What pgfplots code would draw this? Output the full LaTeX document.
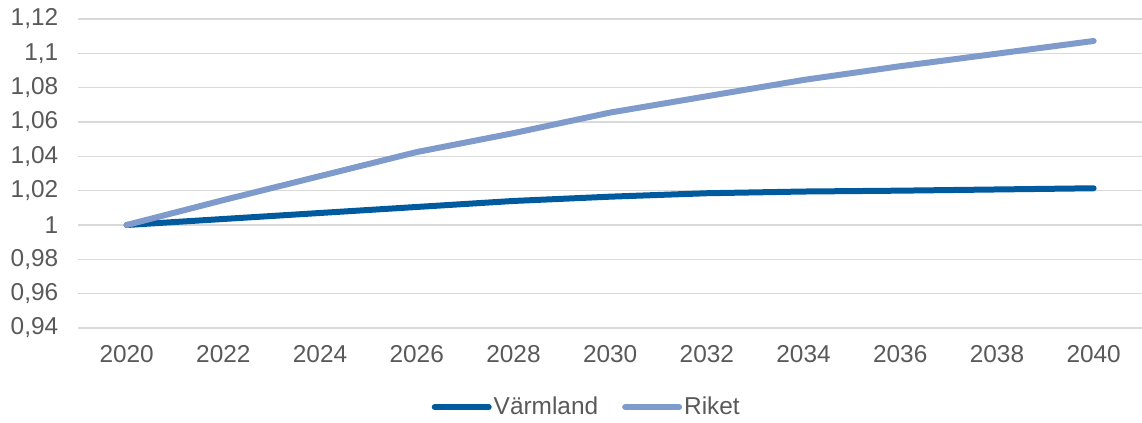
\documentclass[border=0pt]{standalone}
\usepackage{fontspec}
\setmainfont{Liberation Sans}
\usepackage{pgfplots}
\pgfplotsset{compat=1.18}
\definecolor{varm}{HTML}{005A9E}
\definecolor{riket}{HTML}{7F9BCC}
\definecolor{txt}{HTML}{595959}
\definecolor{grd}{HTML}{D9D9D9}
\begin{document}
\begin{tikzpicture}
\begin{axis}[name=ax, scale only axis, width=531.85pt, height=154.5pt,
  xmin=2019, xmax=2041, ymin=0.94, ymax=1.12,
  xtick={2020,2022,...,2040},
  ytick={0.94,0.96,0.98,1,1.02,1.04,1.06,1.08,1.1,1.12},
  font=\fontsize{12.2}{14}\selectfont, tick label style={text=txt},
  /pgf/number format/assume math mode=true,
  /pgf/number format/use comma,
  xticklabel style={/pgf/number format/1000 sep={}, yshift=-5.2pt},
  yticklabel style={xshift=-6.5pt},
  axis line style={draw=none}, major tick length=0pt,
  ymajorgrids, grid style={grd, line width=0.7pt},
  legend style={draw=none, fill=none, legend columns=2,
    at={(0.478,-0.256)}, anchor=center, text=txt,
    nodes={inner sep=1pt, font=\fontsize{12.2}{14}\selectfont},
    /tikz/every even column/.append style={column sep=11pt}},
  legend image code/.code={\draw[#1, line cap=round] (0pt,0pt) -- (27pt,0pt);},
  every axis plot/.append style={line width=3pt, line cap=round, line join=round, mark=none}]
\addplot[varm] coordinates {(2020,1.0) (2022,1.0035) (2024,1.007) (2026,1.0105) (2028,1.014) (2030,1.0165) (2032,1.0185) (2034,1.0195) (2036,1.0200) (2038,1.0207) (2040,1.0214)};
\addlegendentry{Värmland}
\addplot[riket] coordinates {(2020,1.0) (2022,1.0145) (2024,1.0285) (2026,1.0425) (2028,1.0535) (2030,1.0655) (2032,1.075) (2034,1.0845) (2036,1.0925) (2038,1.0998) (2040,1.1072)};
\addlegendentry{Riket}
\end{axis}
\pgfresetboundingbox
\path ([xshift=-39.15pt,yshift=-47.5pt]ax.south west) rectangle ([yshift=9.5pt]ax.north east);
\end{tikzpicture}
\end{document}
